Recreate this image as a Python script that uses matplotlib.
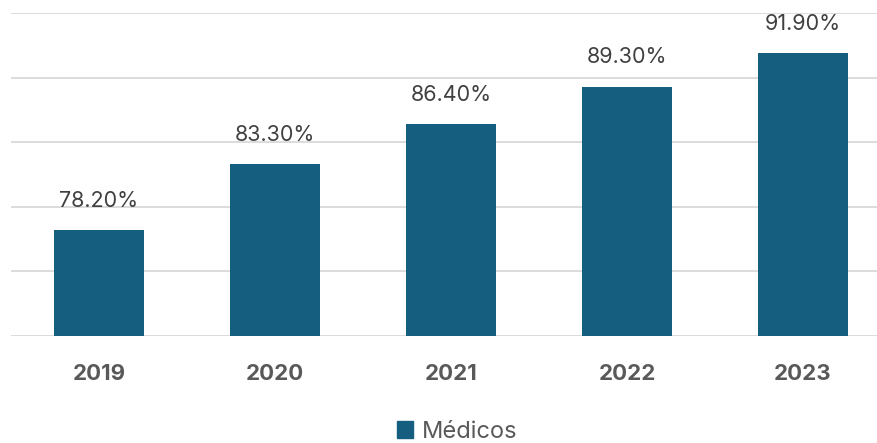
import matplotlib
matplotlib.use("Agg")
import matplotlib.pyplot as plt
from matplotlib.patches import Patch

# data
years = ["2019", "2020", "2021", "2022", "2023"]
medicos = [78.2, 83.3, 86.4, 89.3, 91.9]
value_labels = ["78.20%", "83.30%", "86.40%", "89.30%", "91.90%"]

bar_color = "#165E80"
plt.rcParams["font.family"] = ["Inter", "DejaVu Sans"]

fig = plt.figure(figsize=(8.77, 4.43), dpi=100)
ax = fig.add_axes([11 / 877, 107 / 443, 880 / 877, 323 / 443])

x = list(range(len(years)))
ax.bar(x, medicos, width=0.51, color=bar_color, zorder=3)
ax.set_xlim(-0.5, len(years) - 0.5)
ax.set_ylim(70, 95)
ax.set_yticks([70, 75, 80, 85, 90, 95])
ax.yaxis.grid(True, color="#D9D9D9", linewidth=1.3, zorder=0)
ax.tick_params(axis="y", left=False, labelleft=False)
ax.tick_params(axis="x", bottom=False, pad=17)
ax.set_xticks(x)
ax.set_xticklabels(years, fontsize=16, fontweight="bold", color="#595959")
for s in ax.spines.values():
    s.set_visible(False)

# value labels above bars
for xi, v, lab in zip(x, medicos, value_labels):
    ax.annotate(lab, (xi, v), xytext=(0, 21), textcoords="offset points",
                ha="center", va="center", fontsize=15.5, color="#404040")

fig.legend(handles=[Patch(color=bar_color, label="Médicos")],
           loc="center", bbox_to_anchor=(457 / 877, 1 - 432 / 443),
           frameon=False, fontsize=17, handlelength=0.7, handleheight=0.7,
           handletextpad=0.35, labelcolor="#595959")

fig.savefig("out.png", dpi=100)
